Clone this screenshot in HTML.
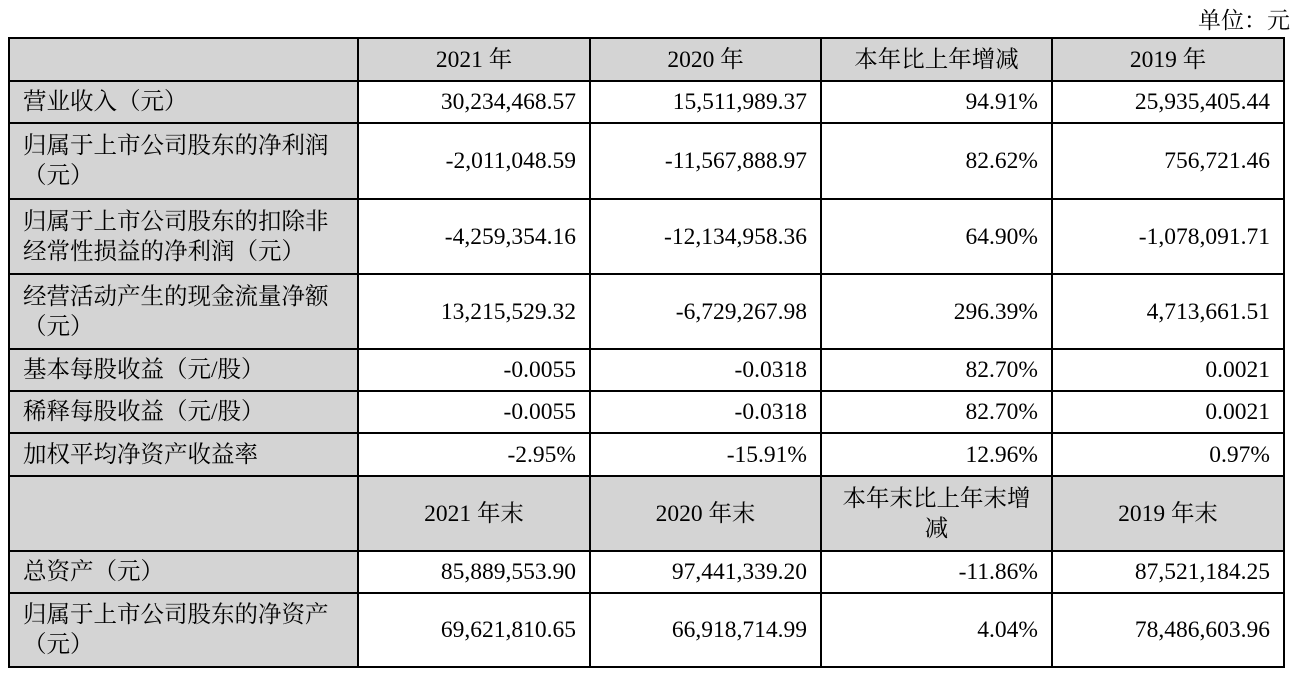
<!DOCTYPE html>
<html><head><meta charset="utf-8"><style>
body{margin:0;width:1298px;height:676px;background:#fff;font-family:"Liberation Serif","Noto Serif CJK SC",serif;color:#000;overflow:hidden}
.unit{position:absolute;right:8px;top:2px;font-size:23px}
table{position:absolute;left:8px;top:37px;border-collapse:collapse;table-layout:fixed;font-size:23.5px}
td{border:2px solid #000;padding:0 13px;line-height:30px;white-space:nowrap;overflow:hidden}
td.l{background:#d4d4d4;text-align:left}
td.r{text-align:right}
tr.h td{background:#d4d4d4;text-align:center}
</style></head><body>
<div class="unit">单位：元</div>
<table>
<colgroup><col style="width:349px"><col style="width:232px"><col style="width:231px"><col style="width:231px"><col style="width:232px"></colgroup>
<tr class="h" style="height:43px"><td></td><td>2021 年</td><td>2020 年</td><td>本年比上年增减</td><td>2019 年</td></tr>
<tr style="height:42px"><td class="l">营业收入（元）</td><td class="r">30,234,468.57</td><td class="r">15,511,989.37</td><td class="r">94.91%</td><td class="r">25,935,405.44</td></tr>
<tr style="height:76px"><td class="l">归属于上市公司股东的净利润<br>（元）</td><td class="r">-2,011,048.59</td><td class="r">-11,567,888.97</td><td class="r">82.62%</td><td class="r">756,721.46</td></tr>
<tr style="height:75px"><td class="l">归属于上市公司股东的扣除非<br>经常性损益的净利润（元）</td><td class="r">-4,259,354.16</td><td class="r">-12,134,958.36</td><td class="r">64.90%</td><td class="r">-1,078,091.71</td></tr>
<tr style="height:75px"><td class="l">经营活动产生的现金流量净额<br>（元）</td><td class="r">13,215,529.32</td><td class="r">-6,729,267.98</td><td class="r">296.39%</td><td class="r">4,713,661.51</td></tr>
<tr style="height:42px"><td class="l">基本每股收益（元/股）</td><td class="r">-0.0055</td><td class="r">-0.0318</td><td class="r">82.70%</td><td class="r">0.0021</td></tr>
<tr style="height:42px"><td class="l">稀释每股收益（元/股）</td><td class="r">-0.0055</td><td class="r">-0.0318</td><td class="r">82.70%</td><td class="r">0.0021</td></tr>
<tr style="height:43px"><td class="l">加权平均净资产收益率</td><td class="r">-2.95%</td><td class="r">-15.91%</td><td class="r">12.96%</td><td class="r">0.97%</td></tr>
<tr class="h" style="height:75px"><td></td><td>2021 年末</td><td>2020 年末</td><td>本年末比上年末增<br>减</td><td>2019 年末</td></tr>
<tr style="height:42px"><td class="l">总资产（元）</td><td class="r">85,889,553.90</td><td class="r">97,441,339.20</td><td class="r">-11.86%</td><td class="r">87,521,184.25</td></tr>
<tr style="height:74px"><td class="l">归属于上市公司股东的净资产<br>（元）</td><td class="r">69,621,810.65</td><td class="r">66,918,714.99</td><td class="r">4.04%</td><td class="r">78,486,603.96</td></tr>
</table>
</body></html>
